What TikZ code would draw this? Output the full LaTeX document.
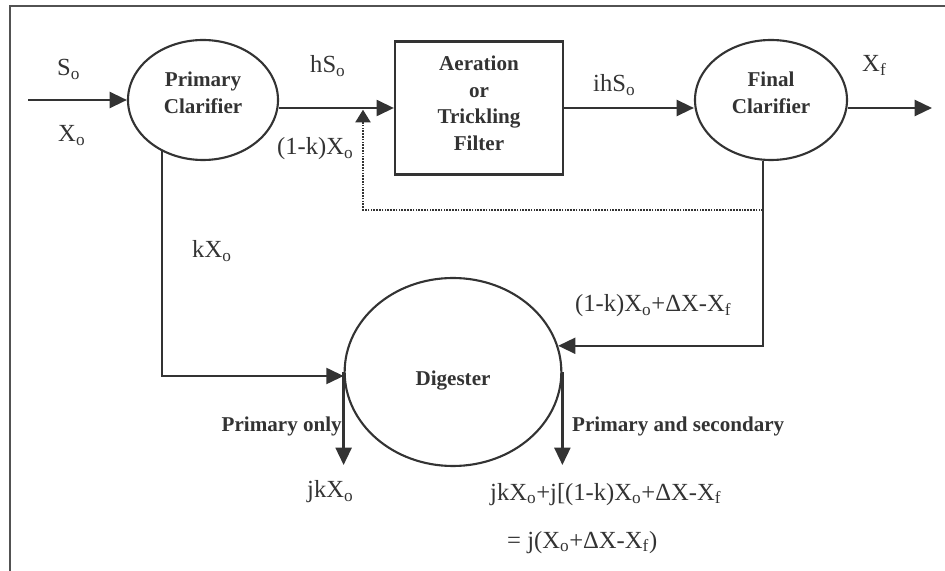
\documentclass[tikz,border=0pt]{standalone}
\usepackage{fontspec}
\setmainfont{Liberation Serif}
\usetikzlibrary{arrows.meta,shapes.geometric,positioning}
\definecolor{ink}{HTML}{333333}

\begin{document}
\begin{tikzpicture}[x=0.03cm,y=-0.03cm,
    unit/.style={ellipse,draw=ink,line width=1.8pt,inner sep=0pt,align=center,text=ink,font=\bfseries\fontsize{18}{23}\selectfont},
    tank/.style={rectangle,draw=ink,line width=1.9pt,inner sep=0pt,align=center,text=ink,font=\bfseries\fontsize{18}{22.7}\selectfont},
    flow/.style={-{Triangle[length=0.52cm,width=0.48cm]},line width=2pt,draw=ink},
    recycle/.style={-{Triangle[length=0.38cm,width=0.46cm]},line width=1.1pt,dash pattern=on 1.4pt off 1pt,draw=ink,shorten >=1.5pt},
    lbl/.style={anchor=base west,inner sep=0pt,text=ink,font=\fontsize{21}{25}\selectfont},
    blbl/.style={anchor=base west,inner sep=0pt,text=ink,font=\bfseries\fontsize{18}{22}\selectfont}
]
    \useasboundingbox (0,0) rectangle (945,571);
    % page frame, only top and left edges show
    \draw[ink!85,line width=1.3pt] (10,571) -- (10,6) -- (945,6);

    % Process units
    \node[unit,minimum width=4.5cm,minimum height=3.6cm,text depth=13pt] (pc) at (203,100) {Primary\\Clarifier};
    \node[tank,minimum width=5.04cm,minimum height=3.99cm,text depth=8.5pt] (af) at (479,108) {Aeration\\or\\Trickling\\Filter};
    \node[unit,minimum width=4.56cm,minimum height=3.6cm,text depth=13pt] (fc) at (771,100) {Final\\Clarifier};
    \node[unit,minimum width=6.5cm,minimum height=5.64cm,text height=27pt] (dg) at (453,372) {Digester};

    % Free ends and bends
    \coordinate (feed) at (28,100);
    \coordinate (effl) at (932,108);
    \coordinate (tap) at (763,210);
    \coordinate (ret) at (363,210);
    \coordinate (kx) at (162,376);
    \coordinate (sludge) at (0,465);

    % Main line
    \draw[flow] (feed) -- (pc.west);
    \draw[flow] (pc.east |- af.west) -- (af.west);
    \draw[flow] (af.east) -- (fc.west |- af.east);
    \draw[flow] (fc.east |- af.east) -- (effl);

    % Recycle (dotted)
    \draw[recycle] (tap) -- (ret) -- (ret |- af.west);

    % Sludge lines
    \draw[flow] (pc.231 -| kx) -- (kx) -- (dg.west |- kx);
    \draw[flow] (fc.south -| tap) -- (tap |- dg.14) -- (dg.14);
    \draw[flow] (dg.west) -- (dg.west |- sludge);
    \draw[flow] (dg.east) -- (dg.east |- sludge);

    % Stream labels
    \node[lbl] (so) at (57,76) {S\textsubscript{o}};
    \node[lbl] (xo) at (58,142) {X\textsubscript{o}};
    \node[lbl] (hso) at (310,73) {hS\textsubscript{o}};
    \node[lbl] (kxo1) at (277,155) {(1-k)X\textsubscript{o}};
    \node[lbl] (ihso) at (593,92) {ihS\textsubscript{o}};
    \node[lbl] (xf) at (862,72) {X\textsubscript{f}};
    \node[lbl] (kxo) at (192,258) {kX\textsubscript{o}};
    \node[lbl] (back) at (575,312) {(1-k)X\textsubscript{o}+ΔX-X\textsubscript{f}};
    \node[blbl,anchor=base east] (ponly) at (342,432) {Primary only};
    \node[blbl] (psec) at (572,432) {Primary and secondary};
    \node[lbl] (jkxo) at (307,498) {jkX\textsubscript{o}};
    \node[lbl] (sum) at (490,500) {jkX\textsubscript{o}+j[(1-k)X\textsubscript{o}+ΔX-X\textsubscript{f}};
    \node[lbl] (res) at (507,548) {= j(X\textsubscript{o}+ΔX-X\textsubscript{f})};
\end{tikzpicture}
\end{document}
